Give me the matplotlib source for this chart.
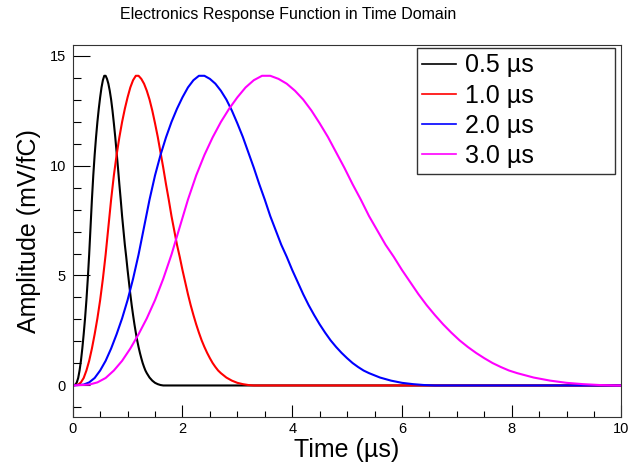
import matplotlib
matplotlib.use("Agg")
import matplotlib.pyplot as plt
from matplotlib.ticker import MultipleLocator

plt.rcParams['font.family'] = ['Liberation Sans', 'DejaVu Sans']

# shaping times of the four responses
labels = ['0.5 \u00b5s', '1.0 \u00b5s', '2.0 \u00b5s', '3.0 \u00b5s']
colors = ['black', 'red', 'blue', 'magenta']

# sample times (us) for each shaping time
t_05 = [0, 0.05, 0.075, 0.1, 0.125, 0.15, 0.175, 0.2, 0.225, 0.25, 0.275, 0.3, 0.325,
        0.35, 0.375, 0.4, 0.425, 0.45, 0.475, 0.5, 0.525, 0.55, 0.575, 0.6, 0.625, 0.65,
        0.675, 0.7, 0.725, 0.75, 0.775, 0.8, 0.825, 0.85, 0.875, 0.9, 0.925, 0.95, 0.975,
        1.0, 1.025, 1.05, 1.075, 1.1, 1.125, 1.15, 1.175, 1.2, 1.225, 1.25, 1.275, 1.3,
        1.325, 1.35, 1.4, 1.45, 1.5, 1.55, 1.6, 1.65, 10]
t_10 = [0, 0.1, 0.15, 0.2, 0.25, 0.3, 0.35, 0.4, 0.45, 0.5, 0.55, 0.6, 0.65, 0.7, 0.75,
        0.8, 0.85, 0.9, 0.95, 1.0, 1.05, 1.1, 1.15, 1.2, 1.25, 1.3, 1.35, 1.4, 1.45, 1.5,
        1.55, 1.6, 1.65, 1.7, 1.75, 1.8, 1.85, 1.9, 1.95, 2.0, 2.05, 2.1, 2.15, 2.2, 2.25,
        2.3, 2.35, 2.4, 2.45, 2.5, 2.55, 2.6, 2.65, 2.7, 2.8, 2.9, 3.0, 3.1, 3.2, 3.3, 10]
t_20 = [0, 0.2, 0.3, 0.4, 0.5, 0.6, 0.7, 0.8, 0.9, 1.0, 1.1, 1.2, 1.3, 1.4, 1.5, 1.6,
        1.7, 1.8, 1.9, 2.0, 2.1, 2.2, 2.3, 2.4, 2.5, 2.6, 2.7, 2.8, 2.9, 3.0, 3.1, 3.2,
        3.3, 3.4, 3.5, 3.6, 3.7, 3.8, 3.9, 4.0, 4.1, 4.2, 4.3, 4.4, 4.5, 4.6, 4.7, 4.8,
        4.9, 5.0, 5.1, 5.2, 5.3, 5.4, 5.6, 5.8, 6.0, 6.2, 6.4, 6.6, 10]
t_30 = [0, 0.3, 0.45, 0.6, 0.75, 0.9, 1.05, 1.2, 1.35, 1.5, 1.65, 1.8, 1.95, 2.1, 2.25,
        2.4, 2.55, 2.7, 2.85, 3.0, 3.15, 3.3, 3.45, 3.6, 3.75, 3.9, 4.05, 4.2, 4.35, 4.5,
        4.65, 4.8, 4.95, 5.1, 5.25, 5.4, 5.55, 5.7, 5.85, 6.0, 6.15, 6.3, 6.45, 6.6, 6.75,
        6.9, 7.05, 7.2, 7.35, 7.5, 7.65, 7.8, 7.95, 8.1, 8.4, 8.7, 9.0, 9.3, 9.6, 9.9, 10]

# amplitude (mV/fC) at those samples, same pulse shape for every shaping time
amp = [0.00, 0.04, 0.14, 0.34, 0.68, 1.12, 1.68, 2.33, 3.05, 3.88, 4.85, 5.95, 7.20,
       8.45, 9.55, 10.48, 11.28, 11.98, 12.58, 13.10, 13.55, 13.88, 14.08, 14.08, 13.94,
       13.72, 13.40, 13.00, 12.50, 11.92, 11.30, 10.60, 9.90, 9.15, 8.45, 7.70, 7.05,
       6.40, 5.85, 5.25, 4.70, 4.15, 3.65, 3.20, 2.78, 2.40, 2.05, 1.75, 1.48, 1.24,
       1.02, 0.84, 0.68, 0.56, 0.36, 0.22, 0.12, 0.06, 0.02, 0.00, 0.00]

times = [t_05, t_10, t_20, t_30]

fig = plt.figure(figsize=(6.3, 4.63), dpi=100)
ax = fig.add_axes([0.1154, 0.100, 0.8711, 0.8028])

for t, lab, c in zip(times, labels, colors):
    ax.plot(t, amp, color=c, lw=1.5, label=lab)

ax.set_xlim(0, 10)
ax.set_ylim(-1.42, 15.48)
ax.xaxis.set_major_locator(MultipleLocator(2))
ax.xaxis.set_minor_locator(MultipleLocator(0.5))
ax.yaxis.set_major_locator(MultipleLocator(5))
ax.yaxis.set_minor_locator(MultipleLocator(1))
ax.tick_params(axis='x', which='major', direction='in', length=8.6, width=0.8,
               labelsize=10.5, pad=4)
ax.tick_params(axis='x', which='minor', direction='in', length=4.3, width=0.8)
ax.tick_params(axis='y', which='major', direction='in', length=12.2, width=0.8,
               labelsize=10.5, pad=5)
ax.tick_params(axis='y', which='minor', direction='in', length=5.8, width=0.8)
for s in ax.spines.values():
    s.set_linewidth(0.8)
    s.set_color('#333333')

ax.set_xlabel('Time (\u00b5s)', fontsize=18)
ax.xaxis.set_label_coords(0.5, -0.056)
ax.set_ylabel('Amplitude (mV/fC)', fontsize=18)
ax.yaxis.set_label_coords(-0.058, 0.5)

fig.text(0.458, 0.968, 'Electronics Response Function in Time Domain',
         ha='center', va='center', fontsize=11.5)

leg = ax.legend(loc='upper left', bbox_to_anchor=(0.627, 0.992, 0.362, 0.0),
                mode='expand', fontsize=18, frameon=True, fancybox=False,
                borderpad=0.22, labelspacing=0.25, handlelength=1.36,
                handletextpad=0.35, borderaxespad=0)
leg.get_frame().set_edgecolor('black')
leg.get_frame().set_linewidth(1.0)
for h in leg.get_lines():
    h.set_linewidth(1.2)

fig.savefig('out.png', dpi=100)
